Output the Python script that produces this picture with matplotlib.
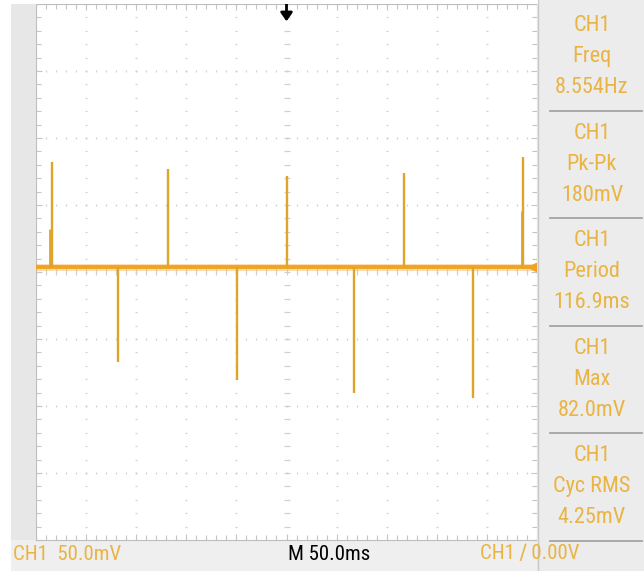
#! /usr/bin/env python3
"""
Oscilloscope capture of CH1: short spikes on a flat trace,
with the measurement panel on the right.
"""

from matplotlib.patches import Rectangle
import matplotlib.pyplot as plt
import numpy as np

# spike times (ms, trigger at 0) and peak voltages (mV)
POS_SPIKE_MS = [-234, -118, 0, 117, 236]
POS_SPIKE_MV = [78, 73, 68, 70, 82]
NEG_SPIKE_MS = [-168, -49, 67, 186]
NEG_SPIKE_MV = [-71, -84, -94, -98]
# small shoulders beside the first and last rising spikes
SHOULDER_MS = [-236, 235]
SHOULDER_MV = [28, 42]

MEAS_NAMES = ["Freq", "Pk-Pk", "Period", "Max", "Cyc RMS"]
MEAS_VALUES = ["8.554Hz", "180mV", "116.9ms", "82.0mV", "4.25mV"]

MV_PER_DIV = 50.0
MS_PER_DIV = 50.0
GROUND_DIV = 0.075

W, H = 644, 571
TRACE = "#F2A224"
SPIKE = "#DDA52A"
LABEL = "#E9B443"
GRID = "#D0D0D0"
FONT = ["Roboto Condensed", "Roboto", "DejaVu Sans"]


def to_div(mv):
    return np.asarray(mv, dtype=float) / MV_PER_DIV + GROUND_DIV


def main():
    fig = plt.figure(figsize=(W / 100, H / 100), dpi=100)
    fig.patch.set_facecolor("#EFEFEF")
    fig.patches.append(Rectangle((0, 0), 11 / W, 1, transform=fig.transFigure,
                                 facecolor="white", edgecolor="none", zorder=0))
    fig.patches.append(Rectangle((11 / W, 31 / H), 25 / W, 540 / H,
                                 transform=fig.transFigure,
                                 facecolor="#E7E7E7", edgecolor="none", zorder=0))
    fig.patches.append(Rectangle((0, 567 / H), 538 / W, 4 / H,
                                 transform=fig.transFigure,
                                 facecolor="white", edgecolor="none", zorder=0))

    ax = fig.add_axes([36 / W, 31 / H, 501 / W, 536 / H])
    ax.set_facecolor("white")
    ax.set_xlim(-5 * MS_PER_DIV, 5 * MS_PER_DIV)
    ax.set_ylim(-4, 4)

    # graticule: dotted division lines, ticked centre cross
    ys = np.arange(-4, 4.001, 0.2)
    xs = np.arange(-250, 250.1, 10)
    for gx in np.arange(-200, 201, 50):
        size = 4 if gx == 0 else 2
        ax.plot(np.full_like(ys, gx), ys, ls="none", marker="_",
                ms=size, mew=0.9, color=GRID, zorder=1)
    for gy in range(-3, 4):
        size = 4 if gy == 0 else 2
        ax.plot(xs, np.full_like(xs, gy), ls="none", marker="|",
                ms=size, mew=0.9, color=GRID, zorder=1)

    ax.set_xticks(np.arange(-250, 251, 50))
    ax.set_yticks(np.arange(-4, 5, 1))
    ax.set_xticks(xs, minor=True)
    ax.set_yticks(ys, minor=True)
    ax.tick_params(which="both", direction="in", top=True, right=True,
                   labelbottom=False, labelleft=False, color="#C4C4C4",
                   width=0.8)
    ax.tick_params(which="major", length=4)
    ax.tick_params(which="minor", length=3.5)
    for sp in ax.spines.values():
        sp.set_color("#BDBDBD")

    # trace
    ax.axhline(GROUND_DIV, color=TRACE, lw=5, alpha=0.35, zorder=3)
    ax.axhline(GROUND_DIV, color=TRACE, lw=2.8, zorder=4)
    ax.vlines(POS_SPIKE_MS, GROUND_DIV, to_div(POS_SPIKE_MV),
              color=SPIKE, lw=1.7, zorder=5)
    ax.vlines(NEG_SPIKE_MS, GROUND_DIV, to_div(NEG_SPIKE_MV),
              color=SPIKE, lw=1.7, zorder=5)
    ax.vlines(SHOULDER_MS, GROUND_DIV, to_div(SHOULDER_MV),
              color=SPIKE, lw=2, zorder=5)

    # trigger position and ground markers
    ax.annotate("", xy=(0, 3.7), xytext=(0, 4.05),
                arrowprops=dict(arrowstyle="-|>,head_width=0.35,head_length=0.5",
                                color="black", lw=2),
                annotation_clip=False, zorder=6)
    ax.plot([-255], [GROUND_DIV], marker=">", ms=6, color=TRACE,
            clip_on=False, zorder=6)
    ax.plot([246], [GROUND_DIV], marker="<", ms=7, color=TRACE,
            clip_on=False, zorder=6)
    ax.text(-264, GROUND_DIV, "1", color=LABEL, fontsize=15, family=FONT,
            ha="right", va="center")

    # measurement panel
    pax = fig.add_axes([537 / W, 0, 107 / W, 1])
    pax.set_facecolor("#ECECEC")
    pax.set_xlim(537, 644)
    pax.set_ylim(H, 0)
    pax.set_xticks([])
    pax.set_yticks([])
    for sp in pax.spines.values():
        sp.set_visible(False)
    pax.axvline(537.5, color="#C8C8C8", lw=1)
    box_h = 107.5
    for i, (name, value) in enumerate(zip(MEAS_NAMES, MEAS_VALUES)):
        top = 3 + i * box_h
        cy = top + box_h / 2
        for dy, s in zip((-31, 0, 31), ("CH1", name, value)):
            pax.text(592, cy + dy, s, color=LABEL, fontsize=16, family=FONT,
                     ha="center", va="center")
        pax.plot([550, 642], [top + box_h] * 2, color="#A3A3A3", lw=1.3)

    # status line
    fig.text(13 / W, 1 - 554 / H, "CH1  50.0mV", color=LABEL, fontsize=15,
             family=FONT, va="center")
    fig.text(288 / W, 1 - 554 / H, "M 50.0ms", color="black", fontsize=15,
             family=FONT, va="center")
    fig.text(480 / W, 1 - 554 / H, "CH1 \u2215 0.00V", color=LABEL,
             fontsize=15, family=FONT, va="center")

    fig.savefig("out.png", dpi=100, facecolor=fig.get_facecolor())


if __name__ == "__main__":
    main()
